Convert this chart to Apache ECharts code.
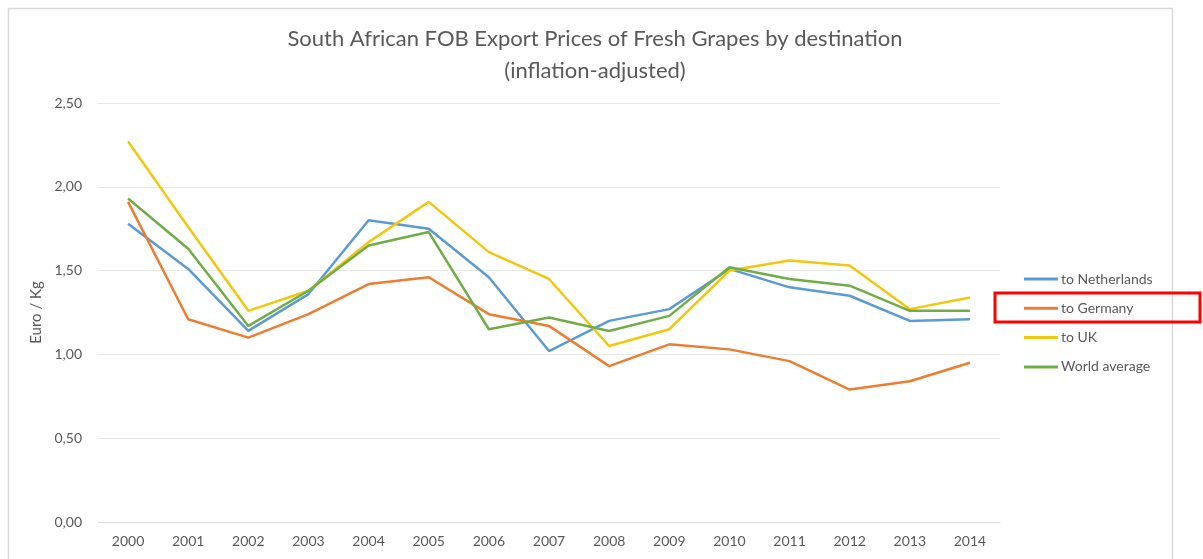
<!DOCTYPE html>
<html>
<head>
<meta charset="utf-8">
<script src="https://cdn.jsdelivr.net/npm/echarts@6/dist/echarts.min.js"></script>
<style>
  html, body { margin: 0; padding: 0; background: #fff; }
  #chart { width: 1203px; height: 559px; }
</style>
</head>
<body>
<div id="chart"></div>
<script>
// years on the x axis
var years = ['2000', '2001', '2002', '2003', '2004', '2005', '2006', '2007',
             '2008', '2009', '2010', '2011', '2012', '2013', '2014'];

// Euro / Kg
var toNetherlands = [1.78, 1.51, 1.14, 1.36, 1.80, 1.75, 1.46, 1.02, 1.20, 1.27, 1.51, 1.40, 1.35, 1.20, 1.21];
var toGermany     = [1.91, 1.21, 1.10, 1.24, 1.42, 1.46, 1.24, 1.17, 0.93, 1.06, 1.03, 0.96, 0.79, 0.84, 0.95];
var toUK          = [2.27, 1.76, 1.26, 1.38, 1.67, 1.91, 1.61, 1.45, 1.05, 1.15, 1.50, 1.56, 1.53, 1.27, 1.34];
var worldAverage  = [1.93, 1.63, 1.17, 1.38, 1.65, 1.73, 1.15, 1.22, 1.14, 1.23, 1.52, 1.45, 1.41, 1.26, 1.26];

var seriesNames = ['to Netherlands', 'to Germany', 'to UK', 'World average'];
var seriesColors = ['#5B9BD5', '#ED7D31', '#F2C80F', '#70AD47'];
var seriesData = [toNetherlands, toGermany, toUK, worldAverage];

var textColor = '#595959';
var fontName = 'Lato, "Open Sans", sans-serif';

var series = [];
for (var i = 0; i < seriesNames.length; i++) {
	series.push({
		name: seriesNames[i],
		type: 'line',
		data: seriesData[i],
		symbol: 'none',
		smooth: false,
		lineStyle: { width: 2.5, color: seriesColors[i] },
		itemStyle: { color: seriesColors[i] }
	});
}

var chart = echarts.init(document.getElementById('chart'));
var option = {
	animation: false,
	backgroundColor: '#fff',
	textStyle: { fontFamily: fontName },
	title: {
		text: 'South African FOB Export Prices of Fresh Grapes by destination\n(inflation-adjusted)',
		left: 590,
		textAlign: 'center',
		top: 18,
		textStyle: {
			fontFamily: fontName,
			fontSize: 22,
			fontWeight: 'normal',
			color: textColor,
			lineHeight: 32
		}
	},
	legend: {
		orient: 'vertical',
		left: 1019,
		top: 267,
		itemWidth: 34,
		itemHeight: 3,
		itemGap: 15.3,
		icon: 'rect',
		data: seriesNames,
		textStyle: { color: textColor, fontSize: 14, fontFamily: fontName, padding: [0, 0, 0, -2] }
	},
	grid: {
		left: 98,
		right: 203,
		top: 103,
		bottom: 37,
		containLabel: false
	},
	xAxis: {
		type: 'category',
		data: years,
		boundaryGap: true,
		axisLine: { lineStyle: { color: '#d9d9d9', width: 1 } },
		axisTick: { show: false },
		axisLabel: { color: textColor, fontSize: 14, margin: 12 }
	},
	yAxis: {
		type: 'value',
		min: 0,
		max: 2.5,
		interval: 0.5,
		name: 'Euro / Kg',
		nameLocation: 'middle',
		nameGap: 50,
		nameTextStyle: { color: textColor, fontSize: 15 },
		axisLine: { show: false },
		axisTick: { show: false },
		splitLine: { lineStyle: { color: '#e8e8e8', width: 1 } },
		axisLabel: {
			color: textColor,
			fontSize: 14,
			margin: 16,
			formatter: function (v) { return v.toFixed(2).replace('.', ','); }
		}
	},
	graphic: [
		{
			type: 'rect',
			shape: { x: 8.5, y: 8.5, width: 1164, height: 620 },
			style: { fill: 'none', stroke: '#d9d9d9', lineWidth: 1.5 },
			silent: true,
			z: -1
		},
		{
			type: 'rect',
			shape: { x: 995, y: 293, width: 205, height: 29 },
			style: { fill: 'none', stroke: '#ff0000', lineWidth: 3 },
			silent: true,
			z: 100
		}
	],
	series: series
};
chart.setOption(option);
</script>
</body>
</html>
